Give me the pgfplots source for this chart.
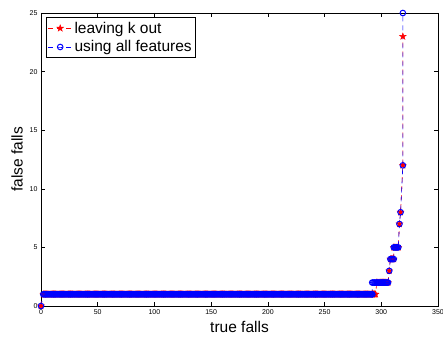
\documentclass[border=0pt]{standalone}
\usepackage{fontspec}
\setmainfont{Liberation Sans}
\usepackage{pgfplots}
\usepackage{pgfplotstable}
\pgfplotsset{compat=1.18}
\usetikzlibrary{plotmarks}

\definecolor{mred}{rgb}{1,0,0}
\definecolor{mblue}{rgb}{0,0,1}

% filled five-pointed star
\pgfdeclareplotmark{pentastar}{%
  \pgfpathmoveto{\pgfpointpolar{90}{\pgfplotmarksize}}%
  \pgfpathlineto{\pgfpointpolar{126}{0.4\pgfplotmarksize}}%
  \pgfpathlineto{\pgfpointpolar{162}{\pgfplotmarksize}}%
  \pgfpathlineto{\pgfpointpolar{198}{0.4\pgfplotmarksize}}%
  \pgfpathlineto{\pgfpointpolar{234}{\pgfplotmarksize}}%
  \pgfpathlineto{\pgfpointpolar{270}{0.4\pgfplotmarksize}}%
  \pgfpathlineto{\pgfpointpolar{306}{\pgfplotmarksize}}%
  \pgfpathlineto{\pgfpointpolar{342}{0.4\pgfplotmarksize}}%
  \pgfpathlineto{\pgfpointpolar{18}{\pgfplotmarksize}}%
  \pgfpathlineto{\pgfpointpolar{54}{0.4\pgfplotmarksize}}%
  \pgfpathclose
  \pgfusepathqfillstroke}

% long stretch where one false fall is reached (shared by both runs)
\pgfplotstableread[row sep=\\]{
x y\\
0 0\\
2 1\\ 3 1\\ 4 1\\ 5 1\\ 6 1\\ 7 1\\ 8 1\\ 9 1\\ 10 1\\ 11 1\\
12 1\\ 13 1\\ 14 1\\ 15 1\\ 16 1\\ 17 1\\ 18 1\\ 19 1\\ 20 1\\ 21 1\\
22 1\\ 23 1\\ 24 1\\ 25 1\\ 26 1\\ 27 1\\ 28 1\\ 29 1\\ 30 1\\ 31 1\\
32 1\\ 33 1\\ 34 1\\ 35 1\\ 36 1\\ 37 1\\ 38 1\\ 39 1\\ 40 1\\ 41 1\\
42 1\\ 43 1\\ 44 1\\ 45 1\\ 46 1\\ 47 1\\ 48 1\\ 49 1\\ 50 1\\ 51 1\\
52 1\\ 53 1\\ 54 1\\ 55 1\\ 56 1\\ 57 1\\ 58 1\\ 59 1\\ 60 1\\ 61 1\\
62 1\\ 63 1\\ 64 1\\ 65 1\\ 66 1\\ 67 1\\ 68 1\\ 69 1\\ 70 1\\ 71 1\\
72 1\\ 73 1\\ 74 1\\ 75 1\\ 76 1\\ 77 1\\ 78 1\\ 79 1\\ 80 1\\ 81 1\\
82 1\\ 83 1\\ 84 1\\ 85 1\\ 86 1\\ 87 1\\ 88 1\\ 89 1\\ 90 1\\ 91 1\\
92 1\\ 93 1\\ 94 1\\ 95 1\\ 96 1\\ 97 1\\ 98 1\\ 99 1\\ 100 1\\ 101 1\\
102 1\\ 103 1\\ 104 1\\ 105 1\\ 106 1\\ 107 1\\ 108 1\\ 109 1\\ 110 1\\ 111 1\\
112 1\\ 113 1\\ 114 1\\ 115 1\\ 116 1\\ 117 1\\ 118 1\\ 119 1\\ 120 1\\ 121 1\\
122 1\\ 123 1\\ 124 1\\ 125 1\\ 126 1\\ 127 1\\ 128 1\\ 129 1\\ 130 1\\ 131 1\\
132 1\\ 133 1\\ 134 1\\ 135 1\\ 136 1\\ 137 1\\ 138 1\\ 139 1\\ 140 1\\ 141 1\\
142 1\\ 143 1\\ 144 1\\ 145 1\\ 146 1\\ 147 1\\ 148 1\\ 149 1\\ 150 1\\ 151 1\\
152 1\\ 153 1\\ 154 1\\ 155 1\\ 156 1\\ 157 1\\ 158 1\\ 159 1\\ 160 1\\ 161 1\\
162 1\\ 163 1\\ 164 1\\ 165 1\\ 166 1\\ 167 1\\ 168 1\\ 169 1\\ 170 1\\ 171 1\\
172 1\\ 173 1\\ 174 1\\ 175 1\\ 176 1\\ 177 1\\ 178 1\\ 179 1\\ 180 1\\ 181 1\\
182 1\\ 183 1\\ 184 1\\ 185 1\\ 186 1\\ 187 1\\ 188 1\\ 189 1\\ 190 1\\ 191 1\\
192 1\\ 193 1\\ 194 1\\ 195 1\\ 196 1\\ 197 1\\ 198 1\\ 199 1\\ 200 1\\ 201 1\\
202 1\\ 203 1\\ 204 1\\ 205 1\\ 206 1\\ 207 1\\ 208 1\\ 209 1\\ 210 1\\ 211 1\\
212 1\\ 213 1\\ 214 1\\ 215 1\\ 216 1\\ 217 1\\ 218 1\\ 219 1\\ 220 1\\ 221 1\\
222 1\\ 223 1\\ 224 1\\ 225 1\\ 226 1\\ 227 1\\ 228 1\\ 229 1\\ 230 1\\ 231 1\\
232 1\\ 233 1\\ 234 1\\ 235 1\\ 236 1\\ 237 1\\ 238 1\\ 239 1\\ 240 1\\ 241 1\\
242 1\\ 243 1\\ 244 1\\ 245 1\\ 246 1\\ 247 1\\ 248 1\\ 249 1\\ 250 1\\ 251 1\\
252 1\\ 253 1\\ 254 1\\ 255 1\\ 256 1\\ 257 1\\ 258 1\\ 259 1\\ 260 1\\ 261 1\\
262 1\\ 263 1\\ 264 1\\ 265 1\\ 266 1\\ 267 1\\ 268 1\\ 269 1\\ 270 1\\ 271 1\\
272 1\\ 273 1\\ 274 1\\ 275 1\\ 276 1\\ 277 1\\ 278 1\\ 279 1\\ 280 1\\ 281 1\\
282 1\\ 283 1\\ 284 1\\ 285 1\\ 286 1\\ 287 1\\ 288 1\\ 289 1\\ 290 1\\ 291 1\\
292 1\\
}\bandtable

\begin{document}
\begin{tikzpicture}
\useasboundingbox (-41pt,-33pt) rectangle (402pt,306pt);
\begin{axis}[
  scale only axis, width=397pt, height=293pt,
  xmin=0, xmax=350, ymin=0, ymax=25,
  xtick={0,50,...,350}, ytick={0,5,...,25},
  tick align=inside, major tick length=4pt,
  axis line style={line width=0.6pt},
  every tick/.style={black, line width=0.5pt},
  tick label style={font=\fontsize{7}{8}\selectfont},
  /pgf/number format/assume math mode=true,
  label style={font=\fontsize{15.5}{18}\selectfont},
  xlabel={true falls}, ylabel={false falls},
  clip=false,
  legend style={at={(0,1)}, anchor=north west, xshift=4.5pt, yshift=-4.5pt,
    font=\fontsize{15.5}{18}\selectfont, draw=black, line width=0.8pt,
    inner sep=2pt, row sep=2pt},
  legend cell align=left,
  legend image code/.code={\draw[mark repeat=2,mark phase=2,#1]
    plot coordinates {(0pt,0pt)(12pt,0pt)(24pt,0pt)};},
  redrun/.style={mred, line width=0.6pt, dash pattern=on 5pt off 4pt,
    mark=pentastar, mark size=3.5pt,
    mark options={solid, fill=mred, line width=0.4pt}},
  bluerun/.style={mblue, line width=0.6pt, dash pattern=on 5pt off 4pt,
    mark=o, mark size=2.8pt, mark options={solid, line width=1pt}},
]
% leaving k out
\addplot[redrun] table[x=x, y=y] {\bandtable};
\addplot[redrun, forget plot] coordinates {
  (292,1)(293,1)(294,1)(295,1)
  (296,2)(297,2)(298,2)(299,2)(300,2)(301,2)(302,2)(303,2)(304,2)(305,2)(306,2)
  (307,3)(308,4)(309,4)(310,4)(311,4)
  (311,5)(312,5)(313,5)(314,5)(315,5)
  (316,7)(317,8)(319,12)(319,23)};
% using all features
\addplot[bluerun] table[x=x, y=y] {\bandtable};
\addplot[bluerun, forget plot] coordinates {
  (292,1)(292,2)(293,2)(294,2)(295,2)(296,2)(297,2)(298,2)(299,2)(300,2)
  (301,2)(302,2)(303,2)(304,2)(305,2)(306,2)
  (307,3)(308,4)(309,4)(310,4)(311,4)
  (311,5)(312,5)(313,5)(314,5)(315,5)
  (316,7)(317,8)(319,12)(319,25)};
\legend{leaving k out, using all features}
\end{axis}
\end{tikzpicture}
\end{document}
